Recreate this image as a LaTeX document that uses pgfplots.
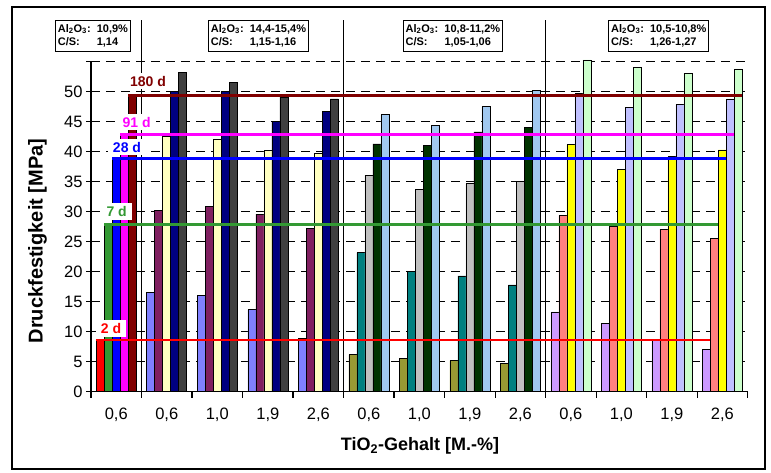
\documentclass[border=0pt]{standalone}
\usepackage{fontspec}
\setmainfont{Liberation Sans}
\usepackage{pgfplots}
\usepackage{pgfplotstable}
\pgfplotsset{compat=1.18}

% Compressive strength [MPa]; x = position of the TiO2 category, columns = curing age
\pgfplotstableread{
x  d2   d7   d28  d91  d180
0  8.6  27.9 38.9 42.9 49.4
}\refcement
\pgfplotstableread{
x  d2   d7   d28  d91  d180
1  16.5 30.2 42.6 50.1 53.2
2  16.0 30.9 42.0 50.1 51.6
3  13.7 29.6 40.2 45.1 49.1
4   8.9 27.2 39.7 46.7 48.8
}\groupB
\pgfplotstableread{
x  d2   d7   d28  d91  d180
5  6.2  23.2 36.1 41.3 46.2
6  5.6  20.1 33.7 41.0 44.4
7  5.2  19.3 34.7 43.3 47.5
8  4.7  17.8 35.0 44.0 50.2
}\groupC
\pgfplotstableread{
x  d2   d7   d28  d91  d180
9  13.3 29.4 41.2 49.7 55.3
10 11.4 27.6 37.1 47.4 54.1
11  8.6 27.1 39.2 47.9 53.1
12  7.1 25.6 40.3 48.8 53.8
}\groupD

% reference cement
\definecolor{rA}{HTML}{FF0000}
\definecolor{rB}{HTML}{339933}
\definecolor{rC}{HTML}{0000FF}
\definecolor{rD}{HTML}{FF00FF}
\definecolor{rE}{HTML}{800000}
% Al2O3 14,4-15,4 %
\definecolor{bA}{HTML}{8080FF}
\definecolor{bB}{HTML}{802060}
\definecolor{bC}{HTML}{FFFFC0}
\definecolor{bD}{HTML}{000080}
\definecolor{bE}{HTML}{404040}
% Al2O3 10,8-11,2 %
\definecolor{cA}{HTML}{999933}
\definecolor{cB}{HTML}{008080}
\definecolor{cC}{HTML}{C0C0C0}
\definecolor{cD}{HTML}{003300}
\definecolor{cE}{HTML}{A0C8F0}
% Al2O3 10,5-10,8 %
\definecolor{dA}{HTML}{CC99FF}
\definecolor{dB}{HTML}{FF8080}
\definecolor{dC}{HTML}{FFFF00}
\definecolor{dD}{HTML}{C0C0FF}
\definecolor{dE}{HTML}{CCFFCC}

\pgfplotsset{
  strength bar/.style n args={2}{ybar, bar width=8pt, draw=black,
    line width=0.6pt, fill=#1, bar shift=#2},
}

\newcommand{\agegroup}[6]{%
  \addplot[strength bar={#2}{-16pt}] table[x=x,y=d2]{#1};
  \addplot[strength bar={#3}{-8pt}]  table[x=x,y=d7]{#1};
  \addplot[strength bar={#4}{0pt}]   table[x=x,y=d28]{#1};
  \addplot[strength bar={#5}{8pt}]   table[x=x,y=d91]{#1};
  \addplot[strength bar={#6}{16pt}]  table[x=x,y=d180]{#1};
}

\begin{document}
\begin{tikzpicture}[x=1pt,y=1pt]
\useasboundingbox (0,0) rectangle (771,-472);
\draw[line width=2.5pt] (12,-7) rectangle (765,-469);

\begin{axis}[
  at={(91pt,-391.7pt)}, anchor=south west,
  scale only axis, width=656.7pt, height=330pt,
  xmin=-0.5, xmax=12.5, ymin=0, ymax=55,
  clip=false,
  axis x line*=bottom, axis y line*=left,
  axis line style={-, line width=1.5pt, black},
  tick align=outside,
  major tick length=5pt, minor tick length=6pt,
  xtick={0,...,12},
  xticklabels={{0,6},{0,6},{1,0},{1,9},{2,6},{0,6},{1,0},{1,9},{2,6},{0,6},{1,0},{1,9},{2,6}},
  minor xtick={-0.5,0.5,...,12.5},
  major x tick style={draw=none},
  minor x tick style={black, line width=1.2pt},
  ytick={0,5,...,50},
  extra y ticks={55}, extra y tick labels={},
  extra y tick style={grid=major},
  major y tick style={black, line width=1.2pt},
  ymajorgrids,
  major grid style={black, line width=0.8pt, dash pattern=on 9pt off 6pt},
  tick label style={font=\fontsize{16.5}{18}\selectfont},
  xticklabel style={yshift=-8pt},
  /pgf/number format/assume math mode=true,
]
% separators between the cement series
\draw[black, line width=0.8pt] (axis cs:0.5,0) -- (axis cs:0.5,61.95);
\draw[black, line width=0.8pt] (axis cs:4.5,0) -- (axis cs:4.5,61.95);
\draw[black, line width=0.8pt] (axis cs:8.5,0) -- (axis cs:8.5,61.95);

\agegroup{\refcement}{rA}{rB}{rC}{rD}{rE}
\agegroup{\groupB}{bA}{bB}{bC}{bD}{bE}
\agegroup{\groupC}{cA}{cB}{cC}{cD}{cE}
\agegroup{\groupD}{dA}{dB}{dC}{dD}{dE}

% reference levels of the reference cement, carried across all series
\addplot[rA, line width=2pt]   coordinates {(-0.3959,8.6)  (11.7624,8.6)};
\addplot[rB, line width=2.5pt] coordinates {(-0.2376,27.9) (11.9208,27.9)};
\addplot[rC, line width=2.5pt] coordinates {(-0.0792,38.9) (12.0792,38.9)};
\addplot[rD, line width=2.5pt] coordinates {(0.0792,42.9)  (12.2376,42.9)};
\addplot[rE, line width=3pt]   coordinates {(0.2376,49.4)  (12.3959,49.4)};
\end{axis}

% age labels
\begin{scope}[every node/.style={fill=white, inner xsep=5pt, inner ysep=3pt,
    font=\bfseries\fontsize{14}{16}\selectfont}]
\node[text=rE] at (148,-81)    {180 d};
\node[text=rD] at (136.7,-122) {91 d};
\node[text=rC] at (127,-147)   {28 d};
\node[text=rB] at (116.7,-211.5) {7 d};
\node[text=rA] at (111,-328.5) {2 d};
\end{scope}

% composition boxes
\begin{scope}[every node/.style={draw=black, line width=0.8pt, fill=white,
    anchor=north west, inner sep=2.5pt, font=\bfseries\fontsize{11}{13}\selectfont}]
\node at (55,-20)    {\begin{tabular}{@{}l@{\ \ }l@{}}Al\textsubscript{2}O\textsubscript{3}: & 10,9\% \\ C/S: & 1,14\end{tabular}};
\node at (208,-20)   {\begin{tabular}{@{}l@{\ \ }l@{}}Al\textsubscript{2}O\textsubscript{3}: & 14,4-15,4\% \\ C/S: & 1,15-1,16\end{tabular}};
\node at (402.7,-20) {\begin{tabular}{@{}l@{\ \ }l@{}}Al\textsubscript{2}O\textsubscript{3}: & 10,8-11,2\% \\ C/S: & 1,05-1,06\end{tabular}};
\node at (608.3,-20) {\begin{tabular}{@{}l@{\ \ }l@{}}Al\textsubscript{2}O\textsubscript{3}: & 10,5-10,8\% \\ C/S: & 1,26-1,27\end{tabular}};
\end{scope}

% axis titles
\node[font=\bfseries\fontsize{18}{20}\selectfont] at (420,-446) {TiO\textsubscript{2}-Gehalt [M.-\%]};
\node[font=\bfseries\fontsize{20}{22}\selectfont, rotate=90] at (37.5,-241) {Druckfestigkeit [MPa]};
\end{tikzpicture}
\end{document}
